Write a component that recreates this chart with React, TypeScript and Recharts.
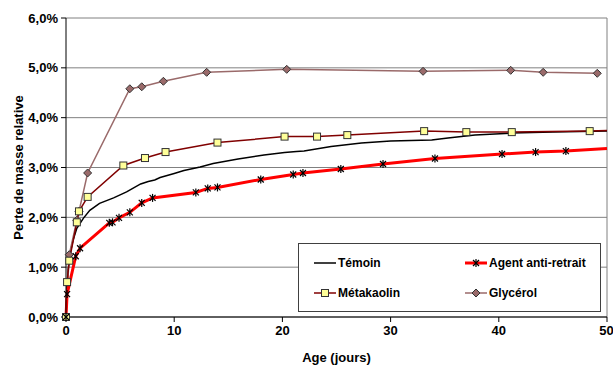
import React from 'react'
import { LineChart, Line, XAxis, YAxis, CartesianGrid, Legend, ReferenceLine } from 'recharts'

// days / values (%)
const temoinDays = [0, 0.1, 0.2, 0.4, 0.65, 1.0, 1.6, 2.2, 3.1, 4.4, 5.6, 6.9, 7.6, 8.2, 8.7, 10.0, 10.9, 12.4, 13.6, 15.9, 18.3, 20.2, 21.3, 22.0, 24.5, 27.3, 30.0, 33.8, 35.3, 37.8, 41.2, 45.0, 50]
const temoinValues = [0, 0.55, 0.95, 1.3, 1.54, 1.78, 1.98, 2.14, 2.28, 2.39, 2.51, 2.67, 2.72, 2.75, 2.8, 2.88, 2.94, 3.01, 3.08, 3.17, 3.25, 3.3, 3.32, 3.33, 3.42, 3.49, 3.53, 3.55, 3.59, 3.65, 3.69, 3.71, 3.73]

const agentDays = [0, 0.1, 0.9, 1.3, 4.0, 4.3, 4.9, 5.9, 7.0, 8.0, 12.0, 13.1, 14.0, 18.0, 21.0, 21.9, 25.4, 29.3, 34.1, 40.3, 43.4, 46.2, 50]
const agentValues = [0, 0.46, 1.22, 1.38, 1.89, 1.9, 1.99, 2.1, 2.29, 2.39, 2.5, 2.58, 2.6, 2.76, 2.86, 2.89, 2.97, 3.07, 3.18, 3.27, 3.31, 3.33, 3.38]

const metaDays = [0, 0.1, 0.3, 1.0, 1.2, 2.0, 5.3, 7.3, 9.2, 14.0, 20.2, 23.2, 26.0, 33.1, 37.0, 41.2, 48.4, 50]
const metaValues = [0, 0.7, 1.13, 1.9, 2.12, 2.41, 3.04, 3.19, 3.31, 3.5, 3.62, 3.62, 3.65, 3.73, 3.71, 3.71, 3.73, 3.74]

const glyDays = [0, 0.3, 1.0, 1.2, 2.0, 5.9, 7.0, 9.0, 13.0, 20.4, 33.0, 41.1, 44.1, 49.1]
const glyValues = [0, 1.25, 1.94, 2.12, 2.89, 4.58, 4.62, 4.73, 4.91, 4.97, 4.93, 4.95, 4.91, 4.89]

const xTicks = [0, 10, 20, 30, 40, 50]
const yTicks = [0, 1, 2, 3, 4, 5, 6]

const toPoints = (days: number[], values: number[]) => days.map((x, i) => ({ x, y: values[i] }))

const temoin = toPoints(temoinDays, temoinValues)
const agent = toPoints(agentDays, agentValues)
const meta = toPoints(metaDays, metaValues)
const gly = toPoints(glyDays, glyValues)

const FONT = '"Liberation Sans", Arial, sans-serif'
const tickStyle = { fill: '#000', fontSize: 13, fontWeight: 700, fontFamily: FONT }

const AGENT = '#ff0000'
const META = '#800000'
const GLY = '#9a6a6a'

// the last point sits on the right edge of the plot, no marker there
const Asterisk = (p: any) => {
  const { cx, cy, payload, index } = p
  if (payload.x >= 50) return <g key={'a' + index} />
  return (
    <g key={'a' + index} stroke="#000" strokeWidth={1.2}>
      <line x1={cx - 3} y1={cy - 3} x2={cx + 3} y2={cy + 3} />
      <line x1={cx - 3} y1={cy + 3} x2={cx + 3} y2={cy - 3} />
      <line x1={cx} y1={cy - 4} x2={cx} y2={cy + 4} />
    </g>
  )
}

const Square = (p: any) => {
  const { cx, cy, payload, index } = p
  if (payload.x >= 50) return <g key={'s' + index} />
  return <rect key={'s' + index} x={cx - 3.5} y={cy - 3.5} width={7} height={7} fill="#ffff99" stroke="#333" strokeWidth={1} />
}

const Diamond = (p: any) => {
  const { cx, cy, index } = p
  return (
    <polygon
      key={'d' + index}
      points={`${cx},${cy - 4} ${cx + 4},${cy} ${cx},${cy + 4} ${cx - 4},${cy}`}
      fill={GLY}
      stroke="#333"
      strokeWidth={1}
    />
  )
}

const swatch = (kind: string) => {
  if (kind === 'temoin') return <line x1={0} y1={5} x2={22} y2={5} stroke="#000" strokeWidth={1.5} />
  if (kind === 'agent')
    return (
      <g>
        <line x1={0} y1={5} x2={22} y2={5} stroke={AGENT} strokeWidth={3} />
        <g stroke="#000" strokeWidth={1.2}>
          <line x1={8} y1={2} x2={14} y2={8} />
          <line x1={8} y1={8} x2={14} y2={2} />
          <line x1={11} y1={1} x2={11} y2={9} />
        </g>
      </g>
    )
  if (kind === 'meta')
    return (
      <g>
        <line x1={0} y1={5} x2={22} y2={5} stroke={META} strokeWidth={1.5} />
        <rect x={7.5} y={1.5} width={7} height={7} fill="#ffff99" stroke="#333" />
      </g>
    )
  return (
    <g>
      <line x1={0} y1={5} x2={22} y2={5} stroke={GLY} strokeWidth={1.5} />
      <polygon points="11,1 15,5 11,9 7,5" fill={GLY} stroke="#333" />
    </g>
  )
}

const legendItems = [
  { kind: 'temoin', label: 'Témoin', left: 15, top: 12 },
  { kind: 'agent', label: 'Agent anti-retrait', left: 166, top: 12 },
  { kind: 'meta', label: 'Métakaolin', left: 15, top: 42 },
  { kind: 'gly', label: 'Glycérol', left: 166, top: 42 },
]

const LegendBox = () => (
  <div style={{ position: 'relative', width: 303, height: 69, boxSizing: 'border-box', border: '1px solid #404040', background: '#fff' }}>
    {legendItems.map((it) => (
      <div
        key={it.kind}
        style={{ position: 'absolute', left: it.left, top: it.top, display: 'flex', alignItems: 'center', height: 14 }}
      >
        <svg width={22} height={10} style={{ marginRight: 2, overflow: 'visible' }}>
          {swatch(it.kind)}
        </svg>
        <span style={{ fontFamily: FONT, fontSize: 12, fontWeight: 700, color: '#000', whiteSpace: 'nowrap' }}>{it.label}</span>
      </div>
    ))}
  </div>
)

export default function App() {
  return (
    <div style={{ position: 'absolute', left: 0, top: 0, background: '#fff' }}>
      <LineChart width={613} height={365} margin={{ top: 18, right: 6, bottom: 0, left: 0 }}>
        <CartesianGrid vertical={false} stroke="#808080" />
        <XAxis
          dataKey="x"
          type="number"
          domain={[0, 50]}
          ticks={xTicks}
          height={48}
          tick={tickStyle}
          tickSize={5}
          tickMargin={4}
          axisLine={{ stroke: '#000' }}
          tickLine={{ stroke: '#000' }}
          label={{ value: 'Age (jours)', position: 'insideBottom', offset: 3, style: { ...tickStyle, fontSize: 13 } }}
        />
        <YAxis
          type="number"
          domain={[0, 6]}
          ticks={yTicks}
          width={66}
          tick={tickStyle}
          tickSize={5}
          tickMargin={3}
          tickFormatter={(v: number) => v.toFixed(1).replace('.', ',') + '%'}
          axisLine={{ stroke: '#000' }}
          tickLine={{ stroke: '#000' }}
          label={{
            value: 'Perte de masse relative',
            angle: -90,
            position: 'insideLeft',
            offset: 18,
            style: { ...tickStyle, fontSize: 13, textAnchor: 'middle' },
          }}
        />
        <ReferenceLine x={50} stroke="#808080" />
        <Line data={temoin} dataKey="y" name="Témoin" stroke="#000" strokeWidth={1.5} dot={false} isAnimationActive={false} />
        <Line data={gly} dataKey="y" name="Glycérol" stroke={GLY} strokeWidth={1.5} dot={Diamond} isAnimationActive={false} />
        <Line data={meta} dataKey="y" name="Métakaolin" stroke={META} strokeWidth={1.5} dot={Square} isAnimationActive={false} />
        <Line data={agent} dataKey="y" name="Agent anti-retrait" stroke={AGENT} strokeWidth={3} dot={Asterisk} isAnimationActive={false} />
        <Legend
          layout="vertical"
          align="center"
          verticalAlign="middle"
          content={() => <LegendBox />}
          wrapperStyle={{ left: 298, top: 243, width: 303, height: 69 }}
        />
      </LineChart>
    </div>
  )
}
